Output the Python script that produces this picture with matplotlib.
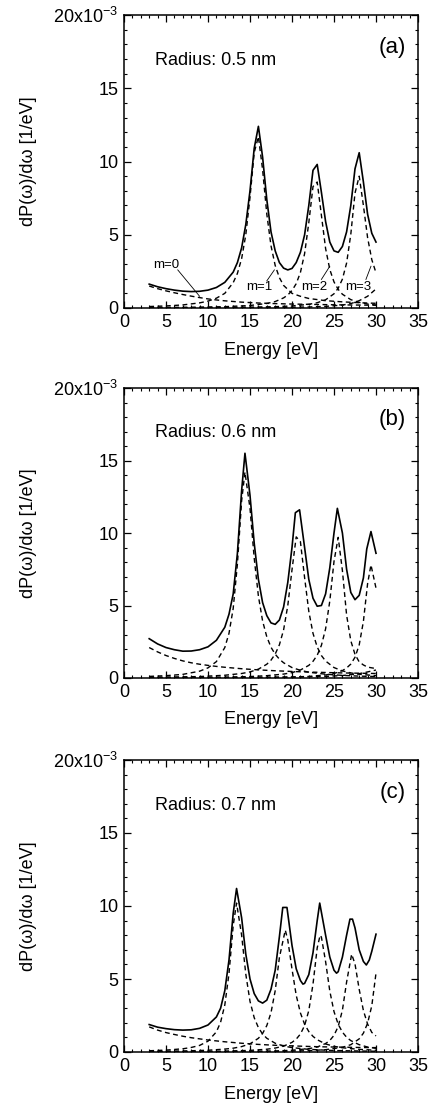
import numpy as np
import matplotlib
matplotlib.use("Agg")
import matplotlib.pyplot as plt
from matplotlib.ticker import MultipleLocator, FuncFormatter

plt.rcParams['font.family'] = ['Liberation Sans', 'DejaVu Sans']
plt.rcParams['mathtext.default'] = 'regular'

# ---- panel (a), radius 0.5 nm  (values in units of 1e-3 1/eV)
a_tot_e = [3, 4, 5, 6, 7, 8, 9, 10, 11, 12, 13, 13.5, 14, 14.5, 15, 15.5, 16, 16.5, 17, 17.5,
           18, 18.5, 19, 19.5, 20, 20.5, 21, 21.5, 22, 22.5, 23, 23.5, 24, 24.5, 25, 25.5,
           26, 26.5, 27, 27.5, 28, 28.5, 29, 29.5, 30]
a_tot = [1.63, 1.45, 1.32, 1.22, 1.15, 1.12, 1.14, 1.22, 1.40, 1.75, 2.45, 3.10, 4.10, 5.70,
         8.00, 10.90, 12.40, 10.30, 7.40, 5.20, 3.90, 3.10, 2.72, 2.60, 2.70, 3.10, 3.80,
         5.00, 7.00, 9.40, 9.80, 7.90, 5.90, 4.50, 3.90, 3.80, 4.20, 5.20, 7.00, 9.50, 10.60,
         8.60, 6.40, 5.10, 4.50]
a_m0_e = [3, 4, 5, 6, 7, 8, 9, 10, 11, 12, 14, 16, 18, 20, 22, 24, 26, 28, 30]
a_m0 = [1.50, 1.32, 1.17, 1.04, 0.92, 0.81, 0.71, 0.62, 0.55, 0.49, 0.40, 0.34, 0.30, 0.27,
        0.25, 0.23, 0.21, 0.20, 0.19]
a_m1_e = [3, 5, 7, 9, 10, 11, 12, 13, 13.5, 14, 14.5, 15, 15.5, 16, 16.5, 17, 17.5, 18, 18.5,
          19, 20, 21, 22, 24, 26, 28, 30]
a_m1 = [0.10, 0.14, 0.21, 0.35, 0.47, 0.67, 1.00, 1.73, 2.36, 3.36, 5.00, 7.55, 10.60, 11.70,
        9.44, 6.41, 4.25, 2.90, 2.07, 1.54, 1.00, 0.80, 0.65, 0.50, 0.42, 0.36, 0.32]
a_m2_e = [3, 8, 12, 15, 17, 18, 19, 19.5, 20, 20.5, 21, 21.5, 22, 22.5, 23, 23.5, 24, 24.5,
          25, 25.5, 26, 27, 28, 29, 30]
a_m2 = [0.03, 0.05, 0.09, 0.17, 0.31, 0.44, 0.69, 0.89, 1.19, 1.66, 2.42, 3.71, 5.82, 8.29,
        8.60, 6.33, 4.06, 2.63, 1.78, 1.27, 0.94, 0.57, 0.38, 0.27, 0.20]
a_m3_e = [3, 10, 15, 18, 20, 22, 23, 24, 25, 25.5, 26, 26.5, 27, 27.5, 28, 28.5, 29, 29.5, 30]
a_m3 = [0.015, 0.03, 0.054, 0.09, 0.14, 0.25, 0.36, 0.56, 0.97, 1.35, 1.97, 3.07, 5.03, 7.84,
        9.00, 7.00, 4.80, 3.30, 2.40]
a_m4_e = [3, 10, 15, 20, 22, 24, 26, 27, 28, 29, 29.5, 30]
a_m4 = [0.01, 0.02, 0.03, 0.05, 0.07, 0.11, 0.20, 0.30, 0.50, 0.80, 1.05, 1.30]

# ---- panel (b), radius 0.6 nm
b_tot_e = [3, 4, 5, 6, 7, 8, 9, 10, 11, 12, 12.5, 13, 13.5, 14, 14.4, 15, 15.5, 16, 16.5, 17,
           17.5, 18, 18.5, 19, 19.5, 20, 20.4, 20.9, 21.5, 22, 22.5, 23, 23.5, 24, 24.5, 25,
           25.4, 26, 26.5, 27, 27.5, 28, 28.5, 28.9, 29.4, 30]
b_tot = [2.71, 2.35, 2.10, 1.95, 1.85, 1.86, 1.95, 2.15, 2.60, 3.50, 4.40, 5.80, 8.60, 12.90,
         15.50, 12.60, 9.30, 6.80, 5.20, 4.30, 3.80, 3.70, 4.00, 4.90, 6.60, 9.00, 11.40,
         11.60, 9.00, 6.80, 5.50, 4.95, 5.00, 5.80, 7.60, 10.00, 11.70, 10.00, 7.50, 5.90,
         5.40, 5.70, 6.90, 8.90, 10.10, 8.60]
b_m0_e = [3, 4, 5, 6, 7, 8, 9, 10, 11, 12, 14, 16, 18, 20, 22, 24, 26, 28, 30]
b_m0 = [2.10, 1.80, 1.55, 1.35, 1.18, 1.05, 0.95, 0.87, 0.80, 0.74, 0.64, 0.56, 0.50, 0.45,
        0.41, 0.38, 0.35, 0.33, 0.31]
b_m1_e = [3, 5, 7, 9, 10, 11, 12, 12.5, 13, 13.5, 14, 14.4, 15, 15.5, 16, 16.5, 17, 17.5, 18,
          18.5, 19, 20, 21, 22, 24, 26, 28, 30]
b_m1 = [0.11, 0.16, 0.25, 0.47, 0.70, 1.13, 2.10, 3.08, 4.80, 7.85, 12.20, 14.20, 11.70, 8.27,
        5.65, 3.93, 2.84, 2.12, 1.64, 1.30, 1.05, 0.72, 0.53, 0.40, 0.26, 0.18, 0.13, 0.10]
b_m2_e = [3, 6, 9, 12, 14, 15, 16, 17, 17.5, 18, 18.5, 19, 19.5, 20, 20.5, 21, 21.5, 22, 22.5,
          23, 23.5, 24, 25, 26, 27, 28, 30]
b_m2 = [0.05, 0.07, 0.10, 0.19, 0.31, 0.42, 0.61, 0.95, 1.23, 1.65, 2.29, 3.32, 5.00, 7.46,
        9.73, 9.41, 6.92, 4.60, 3.08, 2.14, 1.55, 1.17, 0.72, 0.49, 0.35, 0.26, 0.16]
b_m3_e = [3, 8, 12, 15, 17, 19, 20, 21, 22, 22.5, 23, 23.5, 24, 24.5, 25, 25.5, 26, 26.5, 27,
          27.5, 28, 28.5, 29, 30]
b_m3 = [0.02, 0.04, 0.06, 0.10, 0.16, 0.27, 0.37, 0.55, 0.87, 1.15, 1.57, 2.25, 3.39, 5.31,
        8.04, 9.70, 7.41, 4.34, 2.57, 1.63, 1.11, 0.90, 0.75, 0.65]
b_m4_e = [3, 10, 15, 20, 22, 24, 25, 26, 26.5, 27, 27.5, 28, 28.5, 29, 29.4, 30]
b_m4 = [0.01, 0.02, 0.03, 0.07, 0.11, 0.21, 0.31, 0.51, 0.69, 0.96, 1.43, 2.28, 3.90, 6.51,
        7.80, 6.20]
b_m5_e = [3, 15, 20, 24, 26, 28, 29, 30]
b_m5 = [0.01, 0.03, 0.06, 0.11, 0.17, 0.30, 0.42, 0.55]

# ---- panel (c), radius 0.7 nm
c_tot_e = [3, 4, 5, 6, 7, 8, 9, 10, 11, 11.5, 12, 12.5, 13, 13.4, 14, 14.5, 15, 15.5, 16, 16.5,
           17, 17.5, 18, 18.5, 18.9, 19.4, 20, 20.5, 21, 21.3, 21.5, 22, 22.5, 23, 23.3, 24,
           24.5, 25, 25.3, 25.5, 26, 26.5, 26.9, 27.2, 27.5, 28, 28.5, 28.85, 29.2, 29.5, 30]
c_tot = [1.88, 1.70, 1.60, 1.53, 1.50, 1.52, 1.62, 1.85, 2.40, 3.00, 4.20, 6.30, 9.50, 11.20,
         9.20, 6.70, 5.00, 4.00, 3.50, 3.35, 3.55, 4.30, 5.60, 7.90, 9.90, 9.90, 7.30, 5.70,
         4.90, 4.65, 4.70, 5.30, 6.80, 9.00, 10.20, 8.00, 6.50, 5.60, 5.40, 5.50, 6.50, 8.00,
         9.10, 9.10, 8.50, 7.00, 6.20, 5.96, 6.30, 6.90, 8.07]
c_m0_e = [3, 4, 5, 6, 7, 8, 9, 10, 12, 14, 16, 18, 20, 22, 24, 26, 28, 30]
c_m0 = [1.72, 1.50, 1.33, 1.20, 1.08, 0.98, 0.90, 0.82, 0.70, 0.60, 0.52, 0.46, 0.42, 0.38,
        0.35, 0.33, 0.31, 0.30]
c_m1_e = [3, 5, 7, 8, 9, 10, 11, 11.5, 12, 12.5, 13, 13.4, 14, 14.5, 15, 15.5, 16, 16.5, 17,
          18, 19, 20, 22, 25, 30]
c_m1 = [0.085, 0.13, 0.22, 0.31, 0.45, 0.74, 1.38, 2.04, 3.22, 5.37, 8.67, 10.20, 8.02, 5.33,
        3.47, 2.35, 1.67, 1.23, 0.94, 0.60, 0.41, 0.30, 0.18, 0.10, 0.05]
c_m2_e = [3, 7, 10, 12, 13, 14, 15, 16, 16.5, 17, 17.5, 18, 18.5, 19.2, 19.5, 20, 20.5, 21,
          21.5, 22, 22.5, 23, 24, 25, 26, 28, 30]
c_m2 = [0.04, 0.07, 0.12, 0.20, 0.26, 0.37, 0.56, 0.94, 1.27, 1.81, 2.69, 4.20, 6.47, 8.35,
        7.67, 5.68, 3.89, 2.68, 1.90, 1.40, 1.07, 0.84, 0.55, 0.39, 0.29, 0.18, 0.12]
c_m3_e = [3, 8, 12, 15, 17, 18, 19, 20, 20.5, 21, 21.5, 22, 22.5, 23, 23.35, 23.5, 24, 24.5,
          25, 25.5, 26, 26.5, 27, 28, 29, 30]
c_m3 = [0.02, 0.03, 0.06, 0.11, 0.19, 0.27, 0.40, 0.66, 0.88, 1.23, 1.81, 2.84, 4.65, 7.13,
        8.00, 7.87, 6.19, 4.17, 2.77, 1.90, 1.36, 1.01, 0.78, 0.50, 0.34, 0.25]
c_m4_e = [3, 10, 15, 18, 20, 22, 23, 24, 24.5, 25, 25.5, 26, 26.5, 27.1, 27.5, 28, 28.5, 29,
          29.5, 30]
c_m4 = [0.01, 0.02, 0.04, 0.07, 0.12, 0.23, 0.34, 0.58, 0.79, 1.14, 1.75, 2.86, 4.79, 6.70,
        6.03, 4.29, 2.84, 1.91, 1.34, 1.10]
c_m5_e = [3, 12, 18, 22, 24, 26, 27, 28, 28.5, 29, 29.5, 30]
c_m5 = [0.01, 0.02, 0.04, 0.09, 0.16, 0.32, 0.50, 0.90, 1.29, 1.97, 3.17, 5.40]

radii = ["Radius: 0.5 nm", "Radius: 0.6 nm", "Radius: 0.7 nm"]
letters = ["(a)", "(b)", "(c)"]

# mode labels in panel (a): text, text position, leader start, leader end
m_labels = ["m=0", "m=1", "m=2", "m=3"]
m_label_xy = [(5.0, 2.95), (16.1, 1.45), (22.7, 1.45), (27.9, 1.45)]
m_leader_from = [(6.4, 2.6), (17.0, 1.85), (23.5, 1.95), (28.8, 1.95)]
m_leader_to = [(9.0, 0.8), (17.9, 2.6), (24.5, 2.85), (29.4, 2.85)]

panels = [
    (a_tot_e, a_tot, [(a_m0_e, a_m0), (a_m1_e, a_m1), (a_m2_e, a_m2), (a_m3_e, a_m3),
                      (a_m4_e, a_m4)]),
    (b_tot_e, b_tot, [(b_m0_e, b_m0), (b_m1_e, b_m1), (b_m2_e, b_m2), (b_m3_e, b_m3),
                      (b_m4_e, b_m4), (b_m5_e, b_m5)]),
    (c_tot_e, c_tot, [(c_m0_e, c_m0), (c_m1_e, c_m1), (c_m2_e, c_m2), (c_m3_e, c_m3),
                      (c_m4_e, c_m4), (c_m5_e, c_m5)]),
]

W, H = 433, 1108
fig = plt.figure(figsize=(W / 100, H / 100), dpi=100)
boxes = [(15, 308), (388, 678), (760, 1052)]   # top / bottom of each axes in pixels
FS = 13


def ytick_fmt(v, pos):
    if abs(v - 20) < 1e-6:
        return "20x10$^{-3}$"
    return "%d" % v


for i, (te, ty, dashed) in enumerate(panels):
    top, bot = boxes[i]
    ax = fig.add_axes([124 / W, 1 - bot / H, 294 / W, (bot - top) / H])
    for de, dy in dashed:
        ax.plot(de, dy, color="black", lw=1.0, ls=(0, (3.5, 2.5)))
    ax.plot(te, ty, color="black", lw=1.2)

    ax.set_xlim(0, 35)
    ax.set_ylim(0, 20)
    ax.xaxis.set_major_locator(MultipleLocator(5))
    ax.xaxis.set_minor_locator(MultipleLocator(1))
    ax.yaxis.set_major_locator(MultipleLocator(5))
    ax.yaxis.set_minor_locator(MultipleLocator(1))
    ax.yaxis.set_major_formatter(FuncFormatter(ytick_fmt))
    ax.tick_params(which="both", direction="in", top=True, right=True, labelsize=FS)
    ax.tick_params(which="major", length=5, width=0.9)
    ax.tick_params(which="minor", length=2.5, width=0.8)
    ax.tick_params(axis="x", pad=4)
    ax.tick_params(axis="y", pad=4)
    for s in ax.spines.values():
        s.set_linewidth(1.1)

    ax.set_xlabel("Energy [eV]", fontsize=FS)
    ax.xaxis.set_label_coords(0.5, -0.115)
    ax.set_ylabel("dP(ω)/dω [1/eV]", fontsize=FS)
    ax.yaxis.set_label_coords(-0.295, 0.5)

    ax.text(3.7, 16.9, radii[i], fontsize=FS, ha="left", va="center")
    ax.text(33.6, 17.8, letters[i], fontsize=16, ha="right", va="center")

    if i == 0:
        for lab, xy, p0, p1 in zip(m_labels, m_label_xy, m_leader_from, m_leader_to):
            ax.text(xy[0], xy[1], lab, fontsize=9.5, ha="center", va="center")
            ax.plot([p0[0], p1[0]], [p0[1], p1[1]], color="black", lw=0.6)

fig.savefig("out.png", dpi=100)
